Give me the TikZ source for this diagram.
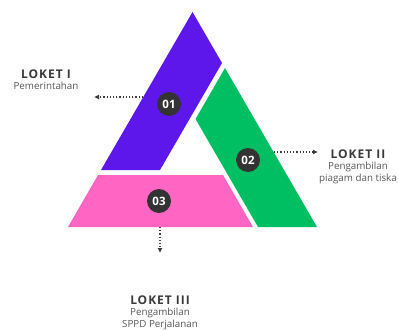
\documentclass[tikz,border=0pt]{standalone}
\usepackage{fontspec}
\setmainfont{Open Sans}
\newfontfamily\titlefont[LetterSpace=8]{Open Sans}
\usetikzlibrary{arrows.meta, positioning}

\definecolor{loketpurple}{HTML}{5E17EB}
\definecolor{loketgreen}{HTML}{00BF63}
\definecolor{loketpink}{HTML}{FF66C4}
\definecolor{badgegray}{HTML}{333333}
\definecolor{labelgray}{HTML}{3A3A3A}

\begin{document}
\begin{tikzpicture}[
  x=1pt, y=-1pt,
  badge/.style={circle, fill=badgegray, text=white, font=\bfseries\fontsize{11.5}{13}\selectfont, minimum size=24pt, inner sep=0pt},
  title/.style={font=\titlefont\bfseries\fontsize{12}{14}\selectfont, text=labelgray, inner sep=0pt},
  subtitle/.style={font=\fontsize{9.8}{11.8}\selectfont, text=labelgray!85, align=center, inner sep=0pt},
  arrow/.style={-{Latex[length=5pt, width=5pt]}, dotted, line width=1.2pt, draw=labelgray}
]
\useasboundingbox (0,0) rectangle (398,329);

% Bands of the triangle
\fill[loketpurple] (192.5,12) -- (101,170) -- (160,170) -- (222,63) -- cycle;
\fill[loketgreen] (225,68) -- (317,227) -- (258,227) -- (195.5,119) -- cycle;
\fill[loketpink] (68,227) -- (253,227) -- (223,175) -- (98,175) -- cycle;

% Badges
\node[badge] (b1) at (169,104) {01};
\node[badge] (b2) at (248,160) {02};
\node[badge] (b3) at (159,201) {03};

% Labels
\node[title] (loket1) at (46,74) {LOKET I};
\node[subtitle, below=3pt of loket1] (sub1) {Pemerintahan};

\node[title] (loket2) at (358,154) {LOKET II};
\node[subtitle, below=3pt of loket2] (sub2) {Pengambilan\\piagam dan tiska};

\node[title] (loket3) at (160,300) {LOKET III};
\node[subtitle, below=3pt of loket3] (sub3) {Pengambilan\\SPPD Perjalanan};

% Arrows
\coordinate (e1) at (143,97);
\coordinate (t1) at (94,97);
\coordinate (e2) at (274,152);
\coordinate (t2) at (318,152);
\coordinate (e3) at (160,227);
\coordinate (t3) at (160,253);
\draw[arrow] (e1) -- (t1);
\draw[arrow] (e2) -- (t2);
\draw[arrow] (e3) -- (t3);

\end{tikzpicture}
\end{document}
